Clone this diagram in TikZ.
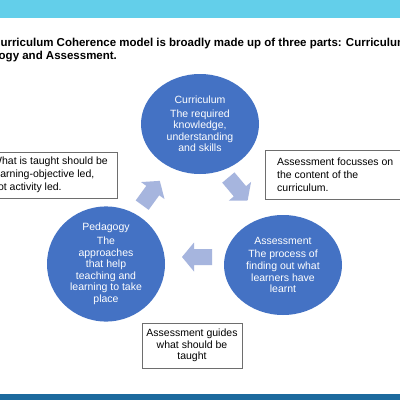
\documentclass[tikz,border=0pt]{standalone}
\usepackage{fontspec}
\setmainfont{Liberation Sans}
\usetikzlibrary{shapes.geometric}
\definecolor{cblue}{RGB}{68,114,196}
\definecolor{afill}{RGB}{166,181,222}
\definecolor{topbar}{RGB}{99,207,234}
\definecolor{botbar}{RGB}{29,106,158}
\definecolor{boxline}{RGB}{110,110,110}
\begin{document}
\begin{tikzpicture}[x=1pt,y=-1pt,
  circ/.style={ellipse, fill=cblue, minimum width=118pt, minimum height=100pt, inner sep=0pt,
    text=white, align=center, font=\fontsize{10.5}{11.6}\selectfont},
  note/.style={draw=boxline, line width=0.6pt, fill=white, inner sep=0pt},
  notetext/.style={font=\fontsize{10.5}{13}\selectfont, inner sep=0pt},
  titletext/.style={font=\bfseries\fontsize{11.5}{13}\selectfont, anchor=west, inner sep=0pt},
  blockarrow/.pic={\fill[afill] (-15,-8) -- (3,-8) -- (3,-14.5) -- (15,0) -- (3,14.5) -- (3,8) -- (-15,8) -- cycle;}]
\useasboundingbox (0,0) rectangle (400,400);
\clip (0,0) rectangle (400,400);
\fill[white] (0,0) rectangle (400,400);
\fill[topbar] (0,0) rectangle (400,18);
\fill[botbar] (0,394) rectangle (400,400);
% title
\node[titletext] (t1) at (-8,44) {Curriculum Coherence model is broadly made up of three parts: Curriculum,};
\node[titletext] (t2) at (-36,57) {Pedagogy and Assessment.};
% circles
\node[circ] (cur) at (200,124) {Curriculum\\[2pt]The required\\knowledge,\\understanding\\and skills};
\node[circ] (ped) at (106,264) {Pedagogy\\[2pt]The\\approaches\\that help\\teaching and\\learning to take\\place};
\node[circ] (ass) at (283,265) {Assessment\\[2pt]The process of\\finding out what\\learners have\\learnt};
% arrows
\pic[rotate=54] at (151,193) {blockarrow};
\pic[rotate=-50] at (238,189) {blockarrow};
\pic[rotate=180] at (197,257) {blockarrow};
% notes
\node[note, anchor=north west, minimum width=132pt, minimum height=46pt] (lbox) at (-15,152) {};
\node[notetext, anchor=west, align=left] (ltext) at (-8,174.5) {What is taught should be\\learning-objective led,\\not activity led.};
\node[note, anchor=north west, minimum width=145pt, minimum height=49pt] (rbox) at (265,150) {};
\node[notetext, anchor=west, align=left] (rtext) at (277,175) {Assessment focusses on\\the content of the\\curriculum.};
\node[note, minimum width=100pt, minimum height=45pt, align=center, font=\fontsize{10.5}{11.5}\selectfont] (bbox) at (192,345.5) {Assessment guides\\what should be\\taught};
\end{tikzpicture}
\end{document}
